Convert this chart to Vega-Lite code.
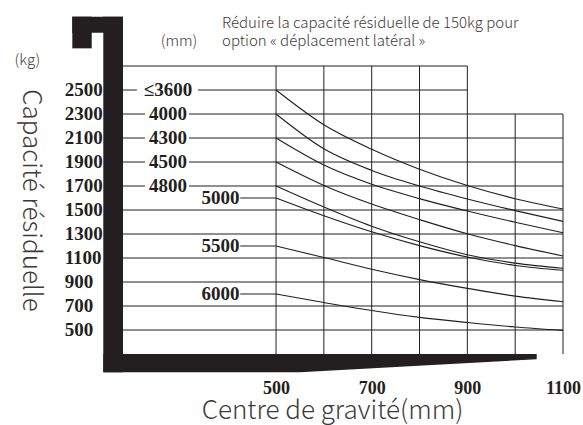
{
  "$schema": "https://vega.github.io/schema/vega-lite/v6.json",
  "width": 440,
  "height": 288,
  "autosize": {"type": "none"},
  "padding": {"left": 123, "top": 66, "right": 20, "bottom": 71},
  "background": "white",
  "config": {
    "view": {"stroke": null},
    "axis": {"labelOverlap": false, "format": "d"}
  },
  "datasets": {
    "hlines": [
      {"y": 2700, "x1": 180, "x2": 900},
      {"y": 2500, "x1": 180, "x2": 209},
      {"y": 2500, "x1": 337, "x2": 900},
      {"y": 2300, "x1": 180, "x2": 226},
      {"y": 2300, "x1": 318, "x2": 1100},
      {"y": 2100, "x1": 180, "x2": 226},
      {"y": 2100, "x1": 318, "x2": 1100},
      {"y": 1900, "x1": 180, "x2": 226},
      {"y": 1900, "x1": 318, "x2": 1100},
      {"y": 1700, "x1": 180, "x2": 226},
      {"y": 1700, "x1": 318, "x2": 1100},
      {"y": 1500, "x1": 180, "x2": 1100},
      {"y": 1300, "x1": 180, "x2": 1100},
      {"y": 1100, "x1": 180, "x2": 1100},
      {"y": 900, "x1": 180, "x2": 1100},
      {"y": 700, "x1": 180, "x2": 1100},
      {"y": 500, "x1": 180, "x2": 1100},
      {"y": 1600, "x1": 425, "x2": 500},
      {"y": 1200, "x1": 425, "x2": 500},
      {"y": 800, "x1": 425, "x2": 500}
    ],
    "vlines": [
      {"x": 500, "y1": 300, "y2": 2700},
      {"x": 600, "y1": 300, "y2": 2700},
      {"x": 700, "y1": 300, "y2": 2700},
      {"x": 800, "y1": 300, "y2": 2700},
      {"x": 900, "y1": 300, "y2": 2700},
      {"x": 1000, "y1": 300, "y2": 2300},
      {"x": 1100, "y1": 300, "y2": 2300}
    ],
    "curves": [
      {"mast": "≤3600", "mm": 500, "kg": 2500}, {"mast": "≤3600", "mm": 600, "kg": 2210}, {"mast": "≤3600", "mm": 700, "kg": 2006}, {"mast": "≤3600", "mm": 800, "kg": 1840}, {"mast": "≤3600", "mm": 900, "kg": 1704}, {"mast": "≤3600", "mm": 1000, "kg": 1594}, {"mast": "≤3600", "mm": 1100, "kg": 1508},
      {"mast": "4000", "mm": 500, "kg": 2300}, {"mast": "4000", "mm": 600, "kg": 2010}, {"mast": "4000", "mm": 700, "kg": 1830}, {"mast": "4000", "mm": 800, "kg": 1700}, {"mast": "4000", "mm": 900, "kg": 1592}, {"mast": "4000", "mm": 1000, "kg": 1495}, {"mast": "4000", "mm": 1100, "kg": 1405},
      {"mast": "4300", "mm": 500, "kg": 2100}, {"mast": "4300", "mm": 600, "kg": 1875}, {"mast": "4300", "mm": 700, "kg": 1715}, {"mast": "4300", "mm": 800, "kg": 1595}, {"mast": "4300", "mm": 900, "kg": 1492}, {"mast": "4300", "mm": 1000, "kg": 1398}, {"mast": "4300", "mm": 1100, "kg": 1310},
      {"mast": "4500", "mm": 500, "kg": 1900}, {"mast": "4500", "mm": 600, "kg": 1705}, {"mast": "4500", "mm": 700, "kg": 1550}, {"mast": "4500", "mm": 800, "kg": 1420}, {"mast": "4500", "mm": 900, "kg": 1302}, {"mast": "4500", "mm": 1000, "kg": 1203}, {"mast": "4500", "mm": 1100, "kg": 1117},
      {"mast": "4800", "mm": 500, "kg": 1700}, {"mast": "4800", "mm": 600, "kg": 1525}, {"mast": "4800", "mm": 700, "kg": 1365}, {"mast": "4800", "mm": 800, "kg": 1235}, {"mast": "4800", "mm": 900, "kg": 1127}, {"mast": "4800", "mm": 1000, "kg": 1057}, {"mast": "4800", "mm": 1100, "kg": 1014},
      {"mast": "5000", "mm": 500, "kg": 1600}, {"mast": "5000", "mm": 600, "kg": 1452}, {"mast": "5000", "mm": 700, "kg": 1318}, {"mast": "5000", "mm": 800, "kg": 1203}, {"mast": "5000", "mm": 900, "kg": 1108}, {"mast": "5000", "mm": 1000, "kg": 1038}, {"mast": "5000", "mm": 1100, "kg": 998},
      {"mast": "5500", "mm": 500, "kg": 1200}, {"mast": "5500", "mm": 600, "kg": 1104}, {"mast": "5500", "mm": 700, "kg": 1006}, {"mast": "5500", "mm": 800, "kg": 920}, {"mast": "5500", "mm": 900, "kg": 847}, {"mast": "5500", "mm": 1000, "kg": 782}, {"mast": "5500", "mm": 1100, "kg": 735},
      {"mast": "6000", "mm": 500, "kg": 800}, {"mast": "6000", "mm": 600, "kg": 729}, {"mast": "6000", "mm": 700, "kg": 662}, {"mast": "6000", "mm": 800, "kg": 605}, {"mast": "6000", "mm": 900, "kg": 562}, {"mast": "6000", "mm": 1000, "kg": 525}, {"mast": "6000", "mm": 1100, "kg": 497}
    ],
    "bars": [
      {"part": "hook top", "x1": 74, "x2": 180, "y1": 2977, "y2": 3111},
      {"part": "hook flange", "x1": 74, "x2": 114.6, "y1": 2847, "y2": 3111},
      {"part": "mast", "x1": 138.8, "x2": 180, "y1": 147.5, "y2": 3111}
    ],
    "fork": [
      {"mm": 138.8, "bottom": 147.5, "top": 300},
      {"mm": 550, "bottom": 147.5, "top": 300},
      {"mm": 1045, "bottom": 256, "top": 300}
    ],
    "ylabels": [
      {"label": "2500", "mm": 58, "kg": 2500},
      {"label": "2300", "mm": 58, "kg": 2300},
      {"label": "2100", "mm": 58, "kg": 2100},
      {"label": "1900", "mm": 58, "kg": 1900},
      {"label": "1700", "mm": 58, "kg": 1700},
      {"label": "1500", "mm": 58, "kg": 1500},
      {"label": "1300", "mm": 58, "kg": 1300},
      {"label": "1100", "mm": 58, "kg": 1100},
      {"label": "900", "mm": 58, "kg": 900},
      {"label": "700", "mm": 58, "kg": 700},
      {"label": "500", "mm": 58, "kg": 500}
    ],
    "masts": [
      {"label": "≤3600", "mm": 274, "kg": 2500},
      {"label": "4000", "mm": 274, "kg": 2300},
      {"label": "4300", "mm": 274, "kg": 2100},
      {"label": "4500", "mm": 274, "kg": 1900},
      {"label": "4800", "mm": 274, "kg": 1700},
      {"label": "5000", "mm": 384, "kg": 1600},
      {"label": "5500", "mm": 384, "kg": 1200},
      {"label": "6000", "mm": 384, "kg": 800}
    ],
    "units": [
      {"label": "(mm)", "mm": 297, "kg": 2908},
      {"label": "(kg)", "mm": -20, "kg": 2746}
    ],
    "notes": [
      {"label": "Réduire la capacité résiduelle de 150kg pour", "mm": 387, "kg": 3017},
      {"label": "option « déplacement latéral »", "mm": 387, "kg": 2867}
    ]
  },
  "layer": [
    {
      "data": {"name": "hlines"},
      "mark": {"type": "rule", "color": "#231f20", "strokeWidth": 1},
      "encoding": {
        "x": {
          "field": "x1", "type": "quantitative",
          "scale": {"domain": [180, 1100], "zero": false, "nice": false},
          "axis": {
            "values": [500, 700, 900, 1100],
            "format": "d",
            "title": "Centre de gravité(mm)",
            "domain": false, "ticks": false, "tickSize": 0, "grid": false,
            "labelFont": "Liberation Serif", "labelFontWeight": "bold", "labelFontSize": 18,
            "labelColor": "#231f20", "labelBaseline": "alphabetic", "labelPadding": 39,
            "labelFlush": false, "labelOverlap": false,
            "titleFont": "Noto Sans CJK SC", "titleFontSize": 26, "titleFontWeight": 300,
            "titleColor": "#3e3a39", "titleBaseline": "alphabetic", "titleAlign": "center",
            "titleX": 209, "titleY": 64
          }
        },
        "x2": {"field": "x2"},
        "y": {
          "field": "y", "type": "quantitative",
          "scale": {"domain": [300, 2700], "zero": false, "nice": false},
          "axis": {
            "values": [500, 2500],
            "labels": false,
            "title": "Capacité résiduelle",
            "domain": false, "ticks": false, "tickSize": 0, "grid": false,
            "titleFont": "Noto Sans CJK SC", "titleFontSize": 26, "titleFontWeight": 300,
            "titleColor": "#3e3a39", "titleAngle": 90, "titleAlign": "center", "titleBaseline": "middle",
            "titleX": -93, "titleY": 134
          }
        }
      }
    },
    {
      "data": {"name": "vlines"},
      "mark": {"type": "rule", "color": "#231f20", "strokeWidth": 1},
      "encoding": {
        "x": {"field": "x", "type": "quantitative"},
        "y": {"field": "y1", "type": "quantitative"},
        "y2": {"field": "y2"}
      }
    },
    {
      "data": {"name": "curves"},
      "mark": {"type": "line", "color": "#231f20", "strokeWidth": 1.1, "interpolate": "monotone"},
      "encoding": {
        "x": {"field": "mm", "type": "quantitative"},
        "y": {"field": "kg", "type": "quantitative"},
        "detail": {"field": "mast", "type": "nominal"}
      }
    },
    {
      "data": {"name": "bars"},
      "mark": {"type": "rect", "color": "#231f20"},
      "encoding": {
        "x": {"field": "x1", "type": "quantitative"},
        "x2": {"field": "x2"},
        "y": {"field": "y1", "type": "quantitative"},
        "y2": {"field": "y2"}
      }
    },
    {
      "data": {"name": "fork"},
      "mark": {"type": "area", "color": "#231f20", "interpolate": "linear"},
      "encoding": {
        "x": {"field": "mm", "type": "quantitative"},
        "y": {"field": "bottom", "type": "quantitative"},
        "y2": {"field": "top"}
      }
    },
    {
      "data": {"name": "ylabels"},
      "mark": {"type": "text", "font": "Liberation Serif", "fontWeight": "bold", "fontSize": 19, "color": "#231f20", "align": "left", "baseline": "middle"},
      "encoding": {
        "x": {"field": "mm", "type": "quantitative"},
        "y": {"field": "kg", "type": "quantitative"},
        "text": {"field": "label"}
      }
    },
    {
      "data": {"name": "masts"},
      "mark": {"type": "text", "font": "Liberation Serif", "fontWeight": "bold", "fontSize": 19, "color": "#231f20", "align": "center", "baseline": "middle"},
      "encoding": {
        "x": {"field": "mm", "type": "quantitative"},
        "y": {"field": "kg", "type": "quantitative"},
        "text": {"field": "label"}
      }
    },
    {
      "data": {"name": "units"},
      "mark": {"type": "text", "font": "Noto Sans CJK SC", "fontSize": 15, "fontWeight": 300, "color": "#3e3a39", "align": "center", "baseline": "middle"},
      "encoding": {
        "x": {"field": "mm", "type": "quantitative"},
        "y": {"field": "kg", "type": "quantitative"},
        "text": {"field": "label"}
      }
    },
    {
      "data": {"name": "notes"},
      "mark": {"type": "text", "font": "Noto Sans CJK SC", "fontSize": 15, "fontWeight": 300, "color": "#3e3a39", "align": "left", "baseline": "alphabetic"},
      "encoding": {
        "x": {"field": "mm", "type": "quantitative"},
        "y": {"field": "kg", "type": "quantitative"},
        "text": {"field": "label"}
      }
    }
  ]
}
